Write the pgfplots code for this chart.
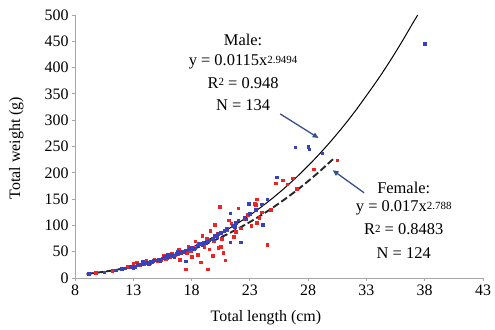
\documentclass[border=0pt]{standalone}
\usepackage{pgfplots}
\pgfplotsset{compat=1.18}
\usepackage{fontspec}
\setmainfont{Liberation Serif}
\usetikzlibrary{arrows.meta}
\definecolor{mred}{RGB}{240,35,35}
\definecolor{mblue}{RGB}{55,65,185}
\definecolor{arr}{RGB}{55,80,140}
\begin{document}
\begin{tikzpicture}
\begin{axis}[
 at={(0,0)}, anchor=south west,
 scale only axis, width=408bp, height=263bp,
 xmin=8, xmax=43, ymin=0, ymax=500,
 xtick={8,13,...,43}, ytick={0,50,...,500},
 axis lines=left, axis line style={gray!70, line width=0.8bp, -},
 tick style={gray!70, line width=0.8bp}, tick align=outside, major tick length=3bp,
 ticklabel style={font=\fontsize{16}{18}\selectfont, text=black},
 /pgf/number format/assume math mode=true,
 clip=false,
 xlabel={Total length (cm)}, ylabel={Total weight (g)},
 label style={font=\fontsize{16}{18}\selectfont},
 xlabel style={at={(axis description cs:0.468,-0.152)}, anchor=center},
 ylabel style={at={(axis description cs:-0.144,0.494)}, anchor=center},
]
\addplot[only marks, mark=square*, mark size=1.3bp, mred] coordinates {
(9.8,10)(11.2,14)(12.0,17)(12.5,22)(13.0,28)(13.3,30)(13.6,25)(13.9,27)(14.1,33)(14.4,29)
(14.8,36)(15.1,32)(15.4,35)(15.6,42)(15.9,38)(16.1,40)(16.3,46)(16.6,43)(16.9,55)(17.1,47)
(17.4,50)(17.5,17)(17.7,60)(17.9,52)(18.1,58)(18.3,70)(18.5,44)(18.6,65)(18.8,30)(18.9,80)
(19.1,60)(19.3,75)(19.4,17)(19.6,90)(19.8,42)(20.0,101)(20.2,85)(20.4,135)(20.5,60)(20.7,48)
(20.9,34)(21.0,92)(21.2,110)(21.4,104)(21.6,78)(22.0,133)(22.2,95)(22.5,112)(22.8,120)(23.1,100)
(23.4,141)(23.5,139)(23.6,150)(23.6,105)(23.8,115)(24.0,125)(24.5,63)(24.8,130)(25.2,180)(25.8,186)
(26.2,178)(26.7,190)(27.0,170)(28.5,207)(30.5,224)(14.6,30)(15.8,36)(16.8,45)(17.6,48)(18.2,56)
(19.0,66)(19.9,70)(20.6,75)(21.8,88)(18.0,40)(17.0,35)(19.5,55)(20.3,58)
};
\addplot[only marks, mark=square*, mark size=1.3bp, mblue] coordinates {
(9.2,8)(10.5,11)(11.5,15)(12.3,19)(12.8,21)(13.1,22)(13.4,25)(13.7,26)(14.0,28)(14.2,30)
(14.5,31)(14.7,33)(15.0,34)(15.2,36)(15.5,38)(15.7,40)(16.0,41)(16.2,44)(16.4,42)(16.7,46)
(17.0,48)(17.2,51)(17.5,53)(17.5,32)(17.8,56)(18.0,58)(18.2,55)(18.5,62)(18.7,65)(19.0,68)
(19.2,66)(19.5,72)(19.8,75)(20.0,80)(20.3,84)(20.5,86)(20.8,90)(21.0,94)(21.3,68)(21.3,123)
(21.5,100)(21.8,105)(22.0,110)(22.2,68)(22.5,115)(22.9,141)(23.0,122)(23.5,130)(24.1,101)(24.0,140)
(25.3,192)(26.9,249)(28.1,245)(28.0,250)(29.2,237)(38.0,445)(13.0,20)(14.3,27)(15.3,33)(16.5,41)
(17.3,49)(18.3,57)(19.4,70)(12,18)(13.8,32)(15.9,45)(16.8,50)(18.9,62)(20.2,78)(21.7,98)
(22.7,112)(24.5,150)
};
\addplot[black, line width=1bp, smooth] coordinates {
(9,7.50)(10,10.24)(11,13.56)(12,17.52)(13,22.19)(14,27.61)(15,33.84)(16,40.94)(17,48.95)(18,57.95)
(19,68.0)(20,79.06)(21,91.3)(22,104.7)(23,119.4)(24,135.4)(25,152.7)(26,171.4)(27,191.6)(28,213.3)
(29,236.5)(30,261.4)(31,287.9)(32,316.2)(33,346.7)(34,378.1)(35,411.7)(36,447.5)(37,485.3)(37.4,500)
};
\addplot[black!85, line width=1.9bp, smooth, dash pattern=on 7bp off 3bp] coordinates {
(9,7.78)(10,10.43)(11,13.61)(12,17.35)(13,21.69)(14,26.68)(15,32.32)(16,38.69)(17,45.81)(18,53.72)
(19,62.46)(20,72.05)(21,82.57)(22,94.0)(23,106.4)(24,119.8)(25,134.2)(26,149.8)(27,166.3)(28,184.1)
(29,203.0)(30,223.2)(30.3,229)
};
\draw[-{Triangle[length=6bp,width=5bp]}, arr, line width=1.3bp] (axis cs:25.6,312) -- (axis cs:28.9,266);
\draw[-{Triangle[length=6bp,width=5bp]}, arr, line width=1.3bp] (axis cs:32.8,162) -- (axis cs:30.1,205);
\begin{scope}[every node/.style={font=\fontsize{16.5}{18}\selectfont, anchor=center, inner sep=0pt}]
\node at (axis cs:22.42,452) {Male:};
\node at (axis cs:22.42,411) {y = 0.0115x{\fontsize{11}{12}\selectfont\raisebox{0.45ex}{2.9494}}};
\node at (axis cs:22.42,371) {R{\fontsize{11}{12}\selectfont\raisebox{0.45ex}{2}} = 0.948};
\node at (axis cs:22.42,329) {N = 134};
\node at (axis cs:36.2,171) {Female:};
\node at (axis cs:36.2,133) {y = 0.017x{\fontsize{11}{12}\selectfont\raisebox{0.45ex}{2.788}}};
\node at (axis cs:36.2,93) {R{\fontsize{11}{12}\selectfont\raisebox{0.45ex}{2}} = 0.8483};
\node at (axis cs:36.2,47) {N = 124};
\end{scope}
\end{axis}
\pgfresetboundingbox
\path[use as bounding box] (-75bp,-52bp) rectangle (420bp,278bp);
\end{tikzpicture}
\end{document}
